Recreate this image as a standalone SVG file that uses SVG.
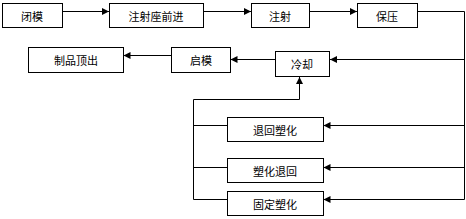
<svg xmlns="http://www.w3.org/2000/svg" width="466" height="219" viewBox="0 0 466 219">
<style>
.box{fill:#fff;stroke:#000;stroke-width:1}
.t{font-family:"Noto Sans CJK SC","Liberation Sans",sans-serif;font-size:11px;fill:#000;text-anchor:middle;dominant-baseline:central}
.ln{fill:none;stroke:#000;stroke-width:1}
</style>
<defs>
<marker id="ah" markerUnits="userSpaceOnUse" markerWidth="8" markerHeight="7" refX="7" refY="3.5" orient="auto">
<path d="M0,0 L7,3.5 L0,7 z" fill="#000"/>
</marker>
</defs>
<rect width="466" height="219" fill="#fff"/>
<g id="connectors">
<line class="ln" x1="62.5" y1="11.5" x2="109" y2="11.5" marker-end="url(#ah)"/>
<line class="ln" x1="203.5" y1="11.5" x2="251" y2="11.5" marker-end="url(#ah)"/>
<line class="ln" x1="309.5" y1="11.5" x2="357" y2="11.5" marker-end="url(#ah)"/>
<polyline class="ln" points="417.5,11.5 464.5,11.5 464.5,199.5"/>
<line class="ln" x1="464.5" y1="59.5" x2="330" y2="59.5" marker-end="url(#ah)"/>
<line class="ln" x1="464.5" y1="125.5" x2="323.5" y2="125.5" marker-end="url(#ah)"/>
<line class="ln" x1="464.5" y1="167.5" x2="323.5" y2="167.5" marker-end="url(#ah)"/>
<line class="ln" x1="464.5" y1="199.5" x2="323.5" y2="199.5" marker-end="url(#ah)"/>
<line class="ln" x1="275.5" y1="59.5" x2="230.5" y2="59.5" marker-end="url(#ah)"/>
<line class="ln" x1="171.5" y1="55.5" x2="123.5" y2="55.5" marker-end="url(#ah)"/>
<polyline class="ln" points="227.5,125.5 193.5,125.5"/>
<polyline class="ln" points="227.5,167.5 193.5,167.5"/>
<polyline class="ln" points="227.5,199.5 193.5,199.5 193.5,99.5 299.5,99.5 299.5,77" marker-end="url(#ah)"/>
</g>
<g id="n1"><rect class="box" x="2.5" y="3.5" width="60" height="24"/><text class="t" x="32" y="16">闭模</text></g>
<g id="n2"><rect class="box" x="109.5" y="3.5" width="94" height="24"/><text class="t" x="156" y="16">注射座前进</text></g>
<g id="n3"><rect class="box" x="251.5" y="3.5" width="58" height="24"/><text class="t" x="280" y="16">注射</text></g>
<g id="n4"><rect class="box" x="357.5" y="3.5" width="60" height="24"/><text class="t" x="387" y="16">保压</text></g>
<g id="n5"><rect class="box" x="275.5" y="51.5" width="54" height="25"/><text class="t" x="302" y="64">冷却</text></g>
<g id="n6"><rect class="box" x="171.5" y="47.5" width="59" height="25"/><text class="t" x="201" y="60">启模</text></g>
<g id="n7"><rect class="box" x="28.5" y="47.5" width="95" height="25"/><text class="t" x="76" y="60">制品顶出</text></g>
<g id="n8"><rect class="box" x="227.5" y="117.5" width="96" height="24"/><text class="t" x="275" y="130">退回塑化</text></g>
<g id="n9"><rect class="box" x="227.5" y="158.5" width="96" height="24"/><text class="t" x="275" y="171">塑化退回</text></g>
<g id="n10"><rect class="box" x="227.5" y="191.5" width="96" height="24"/><text class="t" x="275" y="204">固定塑化</text></g>
</svg>
